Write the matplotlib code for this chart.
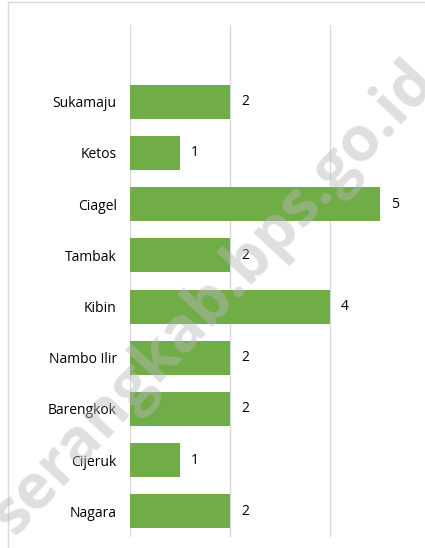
import matplotlib
matplotlib.use("Agg")
import matplotlib.pyplot as plt
from matplotlib.patches import Rectangle

categories = ["Sukamaju", "Ketos", "Ciagel", "Tambak", "Kibin",
              "Nambo Ilir", "Barengkok", "Cijeruk", "Nagara"]
values = [2, 1, 5, 2, 4, 2, 2, 1, 2]
xticks = [0, 2, 4]

W, H = 425, 548
fig = plt.figure(figsize=(W / 100, H / 100), dpi=100)
fig.patch.set_facecolor("white")

# outer border
fig.add_artist(Rectangle((8 / W, -0.1), 1.2, 1 - 2 / H + 0.1, transform=fig.transFigure,
                         fill=False, edgecolor="#d9d9d9", linewidth=1.0))

left, right = 130, 425
top, bottom = 25, 537
ax = fig.add_axes([left / W, 1 - bottom / H, (right - left) / W, (bottom - top) / H])
ax.set_facecolor("none")

n = len(categories)
ypos = list(range(n))
ax.barh(ypos, values, height=0.667, color="#70ad47", zorder=3)
ax.set_ylim(n - 0.5, -1.5)
ax.set_xlim(0, (right - left) / 50)
ax.set_xticks(xticks)
ax.xaxis.grid(True, color="#d9d9d9", linewidth=1.0, zorder=0)
ax.tick_params(axis="x", bottom=False, labelbottom=False)
ax.tick_params(axis="y", left=False, pad=6)
ax.set_yticks(ypos)
ax.set_yticklabels(categories, fontsize=10, family="Open Sans", color="#000000")
for s in ax.spines.values():
    s.set_visible(False)

for y, v in zip(ypos, values):
    ax.text(v + 0.22, y, str(v), va="center", ha="left", fontsize=10,
            family="Open Sans", color="#000000", zorder=4)

fig.text(214 / W, 1 - 298 / H, "serangkab.bps.go.id", rotation=47,
         ha="center", va="center", fontsize=45, fontweight="bold",
         family="Open Sans", color="#b8b8b8", alpha=0.45, zorder=10,
         rotation_mode="anchor")

fig.savefig("out.png", dpi=100, facecolor="white")
